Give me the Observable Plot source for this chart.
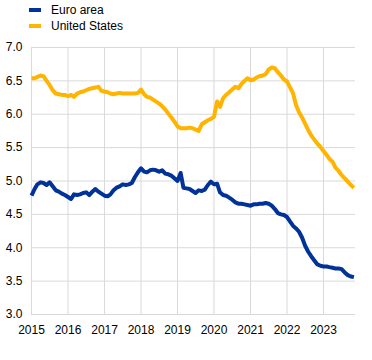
<!DOCTYPE html>
<html>
<head>
<meta charset="utf-8">
<script src="https://cdn.jsdelivr.net/npm/d3@7"></script>
<script src="https://cdn.jsdelivr.net/npm/@observablehq/plot@0.6"></script>
<style>
  html, body { margin: 0; padding: 0; background: #fff; }
  body { width: 372px; height: 360px; overflow: hidden; font-family: "Liberation Sans", Arial, sans-serif; }
  #legend { position: relative; height: 36px; font-size: 12px; color: #000; }
  .item { position: absolute; left: 29px; display: flex; align-items: center; }
  .sw { width: 12px; height: 4px; margin-right: 10px; }
</style>
</head>
<body>
<div id="legend"></div>
<div id="chart"></div>
<script>
const seriesNames = ["Euro area", "United States"];
const seriesColors = ["#003299", "#ffb400"];
const startYear = 2015;
const yearLabels = ["2015","2016","2017","2018","2019","2020","2021","2022","2023"];
const yTicks = [3.0, 3.5, 4.0, 4.5, 5.0, 5.5, 6.0, 6.5, 7.0];

// Monthly values, Jan 2015 - Nov 2023
const euroArea = [
  4.78, 4.88, 4.95, 4.98, 4.97, 4.94, 4.98, 4.92, 4.86, 4.84, 4.81, 4.79,
  4.76, 4.73, 4.80, 4.79, 4.80, 4.82, 4.83, 4.79, 4.84, 4.88, 4.84, 4.81,
  4.78, 4.77, 4.80, 4.86, 4.90, 4.92, 4.95, 4.94, 4.95, 4.97, 5.06, 5.13,
  5.19, 5.14, 5.13, 5.16, 5.17, 5.16, 5.14, 5.16, 5.11, 5.10, 5.08, 5.04,
  5.00, 5.12, 4.90, 4.89, 4.88, 4.85, 4.82, 4.86, 4.85, 4.87, 4.94, 4.99,
  4.95, 4.96, 4.83, 4.79, 4.78, 4.75, 4.72, 4.68, 4.66, 4.66, 4.65, 4.64,
  4.63, 4.65, 4.65, 4.66, 4.66, 4.67, 4.66, 4.63, 4.58, 4.52, 4.50, 4.49,
  4.46, 4.39, 4.33, 4.29, 4.24, 4.15, 4.03, 3.94, 3.87, 3.81, 3.75, 3.73,
  3.72, 3.72, 3.71, 3.70, 3.69, 3.69, 3.68, 3.63, 3.59, 3.57, 3.56
];
const unitedStates = [
  6.54, 6.54, 6.56, 6.58, 6.57, 6.50, 6.44, 6.36, 6.31, 6.30, 6.29, 6.29,
  6.27, 6.29, 6.26, 6.31, 6.33, 6.34, 6.36, 6.38, 6.39, 6.40, 6.41, 6.35,
  6.34, 6.33, 6.31, 6.30, 6.31, 6.32, 6.31, 6.31, 6.31, 6.31, 6.31, 6.32,
  6.37, 6.30, 6.26, 6.25, 6.22, 6.19, 6.16, 6.12, 6.07, 6.01, 5.95, 5.89,
  5.82, 5.79, 5.79, 5.79, 5.80, 5.79, 5.77, 5.75, 5.85, 5.88, 5.91, 5.93,
  5.96, 6.19, 6.11, 6.24, 6.29, 6.33, 6.37, 6.41, 6.39, 6.45, 6.50, 6.54,
  6.51, 6.52, 6.55, 6.57, 6.58, 6.60, 6.67, 6.70, 6.69, 6.63, 6.58, 6.52,
  6.49, 6.40, 6.32, 6.14, 6.03, 5.95, 5.86, 5.76, 5.68, 5.62, 5.56, 5.51,
  5.45, 5.39, 5.33, 5.29, 5.20, 5.15, 5.09, 5.04, 4.99, 4.94, 4.90
];

const monthDate = i => new Date(Date.UTC(startYear + Math.floor(i / 12), i % 12, 1));
const rows = [];
[euroArea, unitedStates].forEach((arr, s) => arr.forEach((v, i) => rows.push({date: monthDate(i), value: v, series: seriesNames[s]})));
const yearDates = yearLabels.map(y => new Date(Date.UTC(+y, 0, 1)));

// legend
const legend = document.getElementById("legend");
seriesNames.forEach((n, i) => {
  const d = document.createElement("div");
  d.className = "item";
  d.style.top = (i === 0 ? 2 : 18) + "px";
  d.style.height = "16px";
  d.innerHTML = `<span class="sw" style="background:${seriesColors[i]}"></span><span>${n}</span>`;
  legend.appendChild(d);
});

const grid = "#d9d9d9";
const chart = Plot.plot({
  width: 372,
  height: 324,
  marginTop: 11,
  marginBottom: 46,
  marginLeft: 31,
  marginRight: 17,
  style: {fontFamily: "'Liberation Sans', Arial, sans-serif", fontSize: "12px", color: "#000", background: "#fff"},
  x: {type: "utc", domain: [new Date(Date.UTC(2015, 0, 1)), new Date(Date.UTC(2023, 10, 17))]},
  y: {domain: [3, 7]},
  color: {domain: seriesNames, range: seriesColors},
  marks: [
    Plot.gridX(yearDates, {stroke: grid, strokeOpacity: 1, strokeWidth: 1}),
    Plot.gridY(yTicks, {stroke: grid, strokeOpacity: 1, strokeWidth: 1}),
    Plot.axisY(yTicks, {tickSize: 0, tickPadding: 9, tickFormat: d => d.toFixed(1), label: null, fontSize: 12}),
    Plot.axisX(yearDates, {tickSize: 0, tickPadding: 11, tickFormat: (d, i) => yearLabels[i], label: null, fontSize: 12}),
    Plot.line(rows, {x: "date", y: "value", z: "series", stroke: "series", strokeWidth: 4, strokeLinejoin: "round", strokeLinecap: "butt"})
  ]
});
document.getElementById("chart").appendChild(chart);
</script>
</body>
</html>
